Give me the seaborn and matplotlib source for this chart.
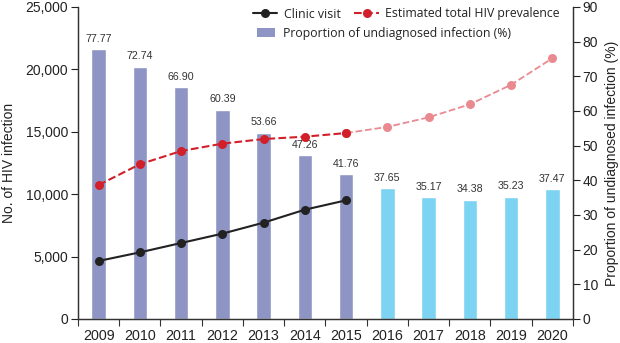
import numpy as np
import pandas as pd
import matplotlib
matplotlib.use("Agg")
import matplotlib.pyplot as plt
import seaborn as sns
from matplotlib.patches import Patch
from matplotlib.lines import Line2D
from matplotlib.ticker import FuncFormatter, FixedLocator

years = list(range(2009, 2021))
undiagnosed_pct = [77.77, 72.74, 66.90, 60.39, 53.66, 47.26, 41.76, 37.65, 35.17, 34.38, 35.23, 37.47]
period = ["obs"] * 7 + ["proj"] * 5
clinic_years = years[:7]
clinic_visit = [4650, 5340, 6090, 6840, 7720, 8760, 9510]
prev_obs_years = years[:7]
prev_obs = [10740, 12400, 13460, 14050, 14420, 14610, 14900]
prev_proj_years = years[6:]
prev_proj = [14900, 15390, 16160, 17200, 18770, 20890]

sns.set_theme(style="ticks")
plt.rcParams["font.family"] = ["Liberation Sans", "DejaVu Sans"]

BAR_OBS = "#8e95c5"
BAR_PROJ = "#7dd3f2"
RED = "#d2202a"
PINK = "#e98a90"
DARK = "#222222"

fig = plt.figure(figsize=(6.2, 3.43), dpi=100)
ax = fig.add_axes([78 / 620, 1 - 319 / 343, (573 - 78) / 620, (319 - 7) / 343])

df = pd.DataFrame({"year": years, "pct": undiagnosed_pct, "period": period})
sns.barplot(data=df, x="year", y="pct", hue="period",
            palette={"obs": BAR_OBS, "proj": BAR_PROJ},
            native_scale=True, width=0.35, dodge=False, legend=False,
            saturation=1, ax=ax)
for cont in ax.containers:
    ax.bar_label(cont, fmt="%.2f", padding=4, fontsize=7.7, color="#333333")

ax2 = ax.twinx()
# swap: percent axis on right, counts on left
ax.yaxis.tick_right()
ax.yaxis.set_label_position("right")
ax2.yaxis.tick_left()
ax2.yaxis.set_label_position("left")

sns.lineplot(x=prev_proj_years, y=prev_proj, color=PINK, linestyle="--", linewidth=1.3,
             marker="o", markersize=6.5, markeredgewidth=0, ax=ax2)
sns.lineplot(x=prev_obs_years, y=prev_obs, color=RED, linestyle="--", linewidth=1.5,
             marker="o", markersize=6.5, markeredgewidth=0, ax=ax2)
sns.lineplot(x=clinic_years, y=clinic_visit, color=DARK, linestyle="-", linewidth=1.5,
             marker="o", markersize=6.5, markeredgewidth=0, ax=ax2)

ax.set_ylim(0, 90)
ax.set_yticks(range(0, 91, 10))
ax2.set_ylim(0, 25000)
ax2.set_yticks(range(0, 25001, 5000))
ax2.yaxis.set_major_formatter(FuncFormatter(lambda v, p: f"{int(v):,}"))
ax.set_xlim(2008.5, 2020.5)
ax.xaxis.set_major_locator(FixedLocator(years))
ax.set_xticklabels([str(y) for y in years])
ax.xaxis.set_minor_locator(FixedLocator([y - 0.5 for y in years] + [2020.5]))
ax.tick_params(axis="x", which="major", length=0, labelsize=10.3, pad=7, colors="#222222")
ax.tick_params(axis="x", which="minor", length=5, width=0.8, color="#333333")
ax.tick_params(axis="y", length=5, width=0.8, labelsize=10, pad=2, colors="#222222")
ax2.tick_params(axis="y", length=5, width=0.8, labelsize=10, pad=2, colors="#222222")

ax.set_xlabel("")
ax.set_ylabel("Proportion of undiagnosed infection (%)", fontsize=10, color="#222222", labelpad=5)
ax2.set_ylabel("No. of HIV infection", fontsize=10, color="#222222", labelpad=7)

for a in (ax, ax2):
    a.spines["top"].set_visible(False)
    for s in ("left", "right", "bottom"):
        a.spines[s].set_color("#333333")
        a.spines[s].set_linewidth(0.9)

legprop = {"family": ["Open Sans", "DejaVu Sans"], "size": 8.8}
h1 = [
    Line2D([], [], color=DARK, linewidth=1.5, marker="o", markersize=6.5, markeredgewidth=0),
    Line2D([], [], color=RED, linestyle="--", linewidth=1.5, marker="o", markersize=6.5, markeredgewidth=0),
]
leg1 = fig.legend(h1, ["Clinic visit", "Estimated total HIV prevalence"], ncol=2,
                  loc="center left", bbox_to_anchor=(253 / 620, 1 - 14 / 343),
                  frameon=False, prop=legprop, handlelength=2.0, handletextpad=0.5,
                  columnspacing=1.15, borderaxespad=0, borderpad=0, labelcolor="#222222")
h2 = [Patch(facecolor=BAR_OBS, edgecolor="none")]
leg2 = fig.legend(h2, ["Proportion of undiagnosed infection (%)"], ncol=1,
                  loc="center left", bbox_to_anchor=(257 / 620, 1 - 33 / 343),
                  frameon=False, prop=legprop, handlelength=1.5, handletextpad=0.65,
                  borderaxespad=0, borderpad=0, labelcolor="#222222")

fig.savefig("out.png", dpi=100)
